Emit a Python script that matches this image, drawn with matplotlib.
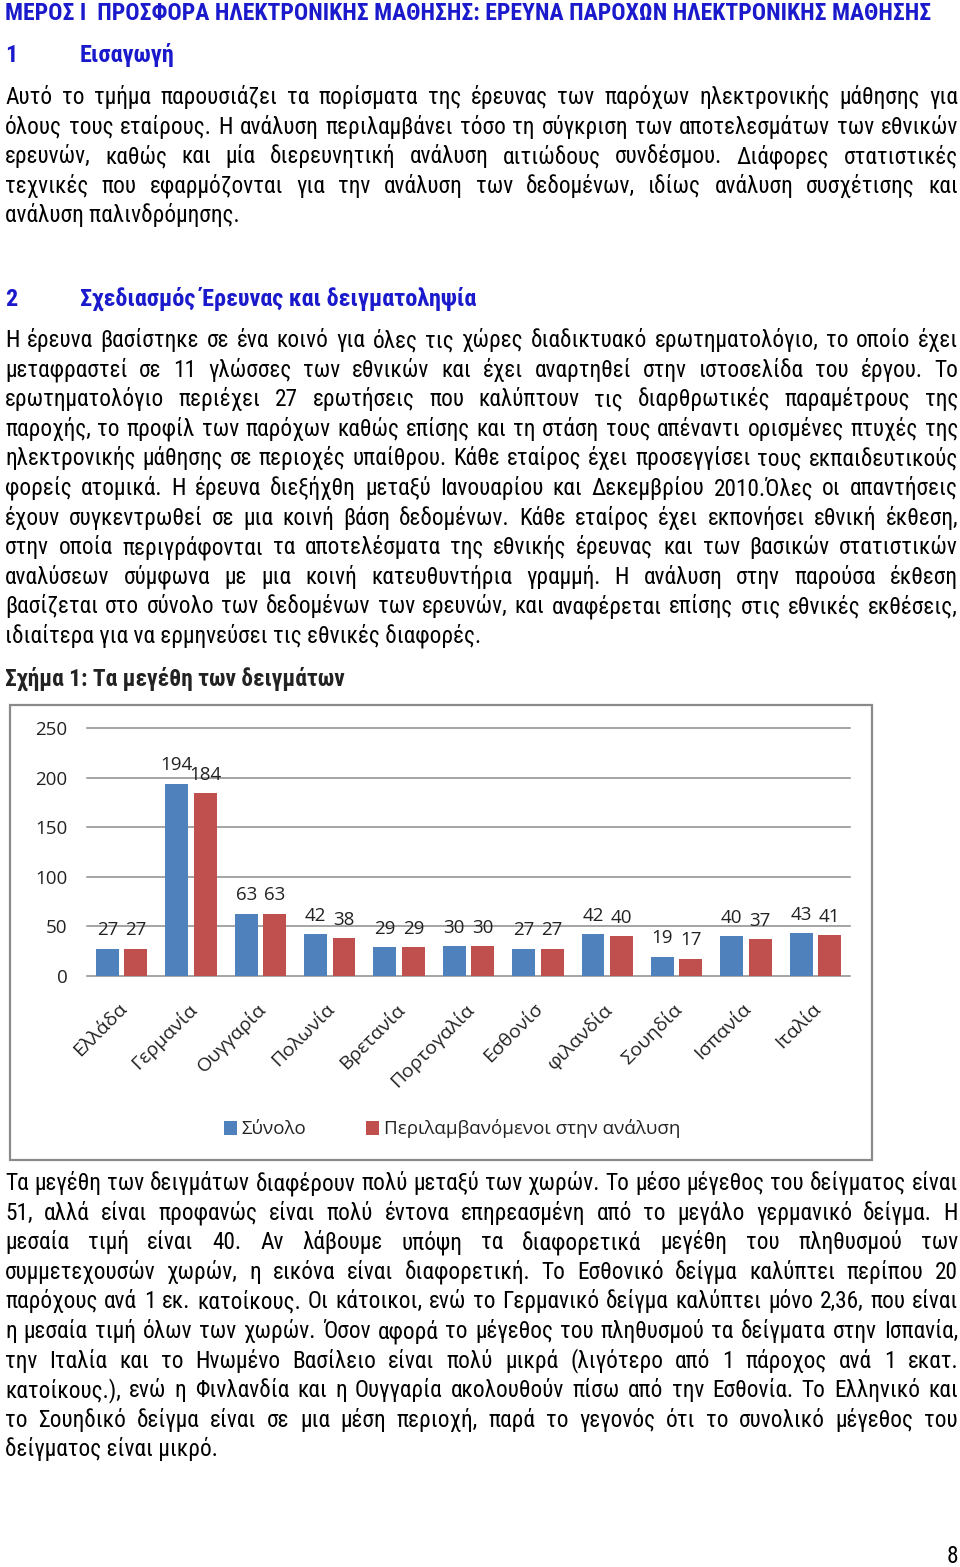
import matplotlib
matplotlib.use('Agg')
import matplotlib.pyplot as plt
import numpy as np
from matplotlib.patches import Rectangle, Patch
from matplotlib import font_manager
import matplotlib.transforms as mtransforms

# ---------------- data ----------------
countries = ['Ελλάδα', 'Γερμανία', 'Ουγγαρία', 'Πολωνία', 'Βρετανία', 'Πορτογαλία',
             'Εσθονίσ', 'φιλανδία', 'Σουηδία', 'Ισπανία', 'Ιταλία']
total = [27, 194, 63, 42, 29, 30, 27, 42, 19, 40, 43]
included = [27, 184, 63, 38, 29, 30, 27, 40, 17, 37, 41]
series_names = ['Σύνολο', 'Περιλαμβανόμενοι στην ανάλυση']
yticks = [0, 50, 100, 150, 200, 250]

title = 'ΜΕΡΟΣ Ι  ΠΡΟΣΦΟΡΑ ΗΛΕΚΤΡΟΝΙΚΗΣ ΜΑΘΗΣΗΣ: ΕΡΕΥΝΑ ΠΑΡΟΧΩΝ ΗΛΕΚΤΡΟΝΙΚΗΣ ΜΑΘΗΣΗΣ'
sec1 = ('1', 'Εισαγωγή')
para1 = [
    'Αυτό το τμήμα παρουσιάζει τα πορίσματα της έρευνας των παρόχων ηλεκτρονικής μάθησης για',
    'όλους τους εταίρους. Η ανάλυση περιλαμβάνει τόσο τη σύγκριση των αποτελεσμάτων των εθνικών',
    'ερευνών, καθώς και μία διερευνητική ανάλυση αιτιώδους συνδέσμου. Διάφορες στατιστικές',
    'τεχνικές που εφαρμόζονται για την ανάλυση των δεδομένων, ιδίως ανάλυση συσχέτισης και',
    'ανάλυση παλινδρόμησης.',
]
sec2 = ('2', 'Σχεδιασμός Έρευνας και δειγματοληψία')
para2 = [
    'Η έρευνα βασίστηκε σε ένα κοινό για όλες τις χώρες διαδικτυακό ερωτηματολόγιο, το οποίο έχει',
    'μεταφραστεί σε 11 γλώσσες των εθνικών και έχει αναρτηθεί στην ιστοσελίδα του έργου. Το',
    'ερωτηματολόγιο περιέχει 27 ερωτήσεις που καλύπτουν τις διαρθρωτικές παραμέτρους της',
    'παροχής, το προφίλ των παρόχων καθώς επίσης και τη στάση τους απέναντι ορισμένες πτυχές της',
    'ηλεκτρονικής μάθησης σε περιοχές υπαίθρου. Κάθε εταίρος έχει προσεγγίσει τους εκπαιδευτικούς',
    'φορείς ατομικά. Η έρευνα διεξήχθη μεταξύ Ιανουαρίου και Δεκεμβρίου 2010.Όλες οι απαντήσεις',
    'έχουν συγκεντρωθεί σε μια κοινή βάση δεδομένων. Κάθε εταίρος έχει εκπονήσει εθνική έκθεση,',
    'στην οποία περιγράφονται τα αποτελέσματα της εθνικής έρευνας και των βασικών στατιστικών',
    'αναλύσεων σύμφωνα με μια κοινή κατευθυντήρια γραμμή. Η ανάλυση στην παρούσα έκθεση',
    'βασίζεται στο σύνολο των δεδομένων των ερευνών, και αναφέρεται επίσης στις εθνικές εκθέσεις,',
    'ιδιαίτερα για να ερμηνεύσει τις εθνικές διαφορές.',
]
caption = 'Σχήμα 1: Τα μεγέθη των δειγμάτων'
para3 = [
    'Τα μεγέθη των δειγμάτων διαφέρουν πολύ μεταξύ των χωρών. Το μέσο μέγεθος του δείγματος είναι',
    '51, αλλά είναι προφανώς είναι πολύ έντονα επηρεασμένη από το μεγάλο γερμανικό δείγμα. Η',
    'μεσαία τιμή είναι 40. Αν λάβουμε υπόψη τα διαφορετικά μεγέθη του πληθυσμού των',
    'συμμετεχουσών χωρών, η εικόνα είναι διαφορετική. Το Εσθονικό δείγμα καλύπτει περίπου 20',
    'παρόχους ανά 1 εκ. κατοίκους. Οι κάτοικοι, ενώ το Γερμανικό δείγμα καλύπτει μόνο 2,36, που είναι',
    'η μεσαία τιμή όλων των χωρών. Όσον αφορά το μέγεθος του πληθυσμού τα δείγματα στην Ισπανία,',
    'την Ιταλία και το Ηνωμένο Βασίλειο είναι πολύ μικρά (λιγότερο από 1 πάροχος ανά 1 εκατ.',
    'κατοίκους.), ενώ η Φινλανδία και η Ουγγαρία ακολουθούν πίσω από την Εσθονία. Το Ελληνικό και',
    'το Σουηδικό δείγμα είναι σε μια μέση περιοχή, παρά το γεγονός ότι το συνολικό μέγεθος του',
    'δείγματος είναι μικρό.',
]
page_no = '8'

# ---------------- fonts ----------------
avail = {f.name for f in font_manager.fontManager.ttflist}
def pick(fams):
    out = [f for f in fams if f in avail]
    return out + ['DejaVu Sans'] if out else ['DejaVu Sans']

BODY = pick(['Liberation Sans Narrow', 'Roboto Condensed', 'Open Sans'])
CHART = pick(['Open Sans', 'Noto Sans'])

BLUE_HEAD = '#1a1acc'
C_TOTAL = '#4f81bd'
C_INCL = '#c0504d'
GRID = '#8c8c8c'
CHART_FS = 13.5

W, H = 960, 1567
fig = plt.figure(figsize=(W / 100, H / 100), dpi=100)
fig.patch.set_facecolor('white')
pg = fig.add_axes([0, 0, 1, 1])
pg.set_xlim(0, W)
pg.set_ylim(H, 0)
pg.axis('off')
renderer = fig.canvas.get_renderer()


def measure(s, size, weight='normal', family=BODY):
    t = pg.text(0, 0, s, fontsize=size, fontweight=weight, family=family)
    w = t.get_window_extent(renderer).width
    t.remove()
    return w


def fit_size(s, target, weight='normal', family=BODY):
    return 10.0 * target / measure(s, 10.0, weight, family)


X0, X1 = 5, 958
body_size = fit_size(para2[-1], 475)


def draw_line(s, y, justify, size, color='black', weight='normal', family=BODY):
    if not justify:
        pg.text(X0, y, s, fontsize=size, color=color, fontweight=weight,
                family=family, ha='left', va='baseline')
        return
    words = s.split()
    widths = [measure(w, size, weight, family) for w in words]
    gap = (X1 - X0 - sum(widths)) / (len(words) - 1)
    x = X0
    for w, ww in zip(words, widths):
        pg.text(x, y, w, fontsize=size, color=color, fontweight=weight,
                family=family, ha='left', va='baseline')
        x += ww + gap


def draw_para(lines, y0, step=29.6):
    for i, s in enumerate(lines):
        draw_line(s, y0 + i * step, i < len(lines) - 1, body_size)


# headings
title_size = fit_size(title, 918, 'bold')
pg.text(X0, 20, title, fontsize=title_size, fontweight='bold', color=BLUE_HEAD,
        family=BODY, ha='left', va='baseline')
head_size = fit_size(sec1[1], 95, 'bold')
pg.text(X0, 62, sec1[0], fontsize=head_size, fontweight='bold', color=BLUE_HEAD, family=BODY, va='baseline')
pg.text(80, 62, sec1[1], fontsize=head_size, fontweight='bold', color=BLUE_HEAD, family=BODY, va='baseline')
draw_para(para1, 104)

pg.text(X0, 306, sec2[0], fontsize=head_size, fontweight='bold', color=BLUE_HEAD, family=BODY, va='baseline')
pg.text(80, 306, sec2[1], fontsize=head_size, fontweight='bold', color=BLUE_HEAD, family=BODY, va='baseline')
draw_para(para2, 347)

cap_size = fit_size(caption, 340, 'bold')
pg.text(X0, 686, caption, fontsize=cap_size, fontweight='bold', color='#222222', family=BODY, va='baseline')

draw_para(para3, 1190)
pg.text(958, 1563, page_no, fontsize=body_size, family=BODY, ha='right', va='baseline')

# chart frame
pg.add_patch(Rectangle((10, 705), 862, 455, fill=False, edgecolor='#8a8a8a', lw=1.6))

# ---------------- chart ----------------
ax = fig.add_axes([87 / W, 1 - 976 / H, 763 / W, 248 / H])
x = np.arange(len(countries))
bw, off = 0.33, 0.205
b1 = ax.bar(x - off, total, bw, color=C_TOTAL, zorder=3)
b2 = ax.bar(x + off, included, bw, color=C_INCL, zorder=3)
ax.set_xlim(-0.5, len(countries) - 0.5)
ax.set_ylim(0, 250)
ax.set_yticks(yticks)
ax.set_yticklabels([str(v) for v in yticks], family=CHART, fontsize=CHART_FS, color='#222222')
ax.tick_params(axis='y', length=0, pad=14)
ax.yaxis.grid(True, color=GRID, lw=1.1, zorder=0)
for gl in ax.get_ygridlines():
    gl.set_clip_on(False)
for sp in ax.spines.values():
    sp.set_visible(False)
ax.set_facecolor('none')

ax.set_xticks(x)
ax.set_xticklabels(countries, rotation=45, ha='right', rotation_mode='anchor',
                   family=CHART, fontsize=14, color='#222222')
ax.tick_params(axis='x', length=0, pad=17)
shift = mtransforms.ScaledTranslation(-4 / 100, 0, fig.dpi_scale_trans)
for lab in ax.get_xticklabels():
    lab.set_transform(lab.get_transform() + shift)

for bars in (b1, b2):
    ax.bar_label(bars, padding=7, family=CHART, fontsize=CHART_FS, color='#222222')

handles = [Patch(facecolor=C_TOTAL), Patch(facecolor=C_INCL)]
fig.legend(handles, series_names, loc='center', bbox_to_anchor=(452 / W, 1 - 1129 / H),
           ncol=2, frameon=False, prop={'family': CHART, 'size': CHART_FS},
           handlelength=0.7, handleheight=0.7, handletextpad=0.25, columnspacing=3.2,
           labelcolor='#222222')

fig.savefig('out.png', dpi=100, facecolor='white')
